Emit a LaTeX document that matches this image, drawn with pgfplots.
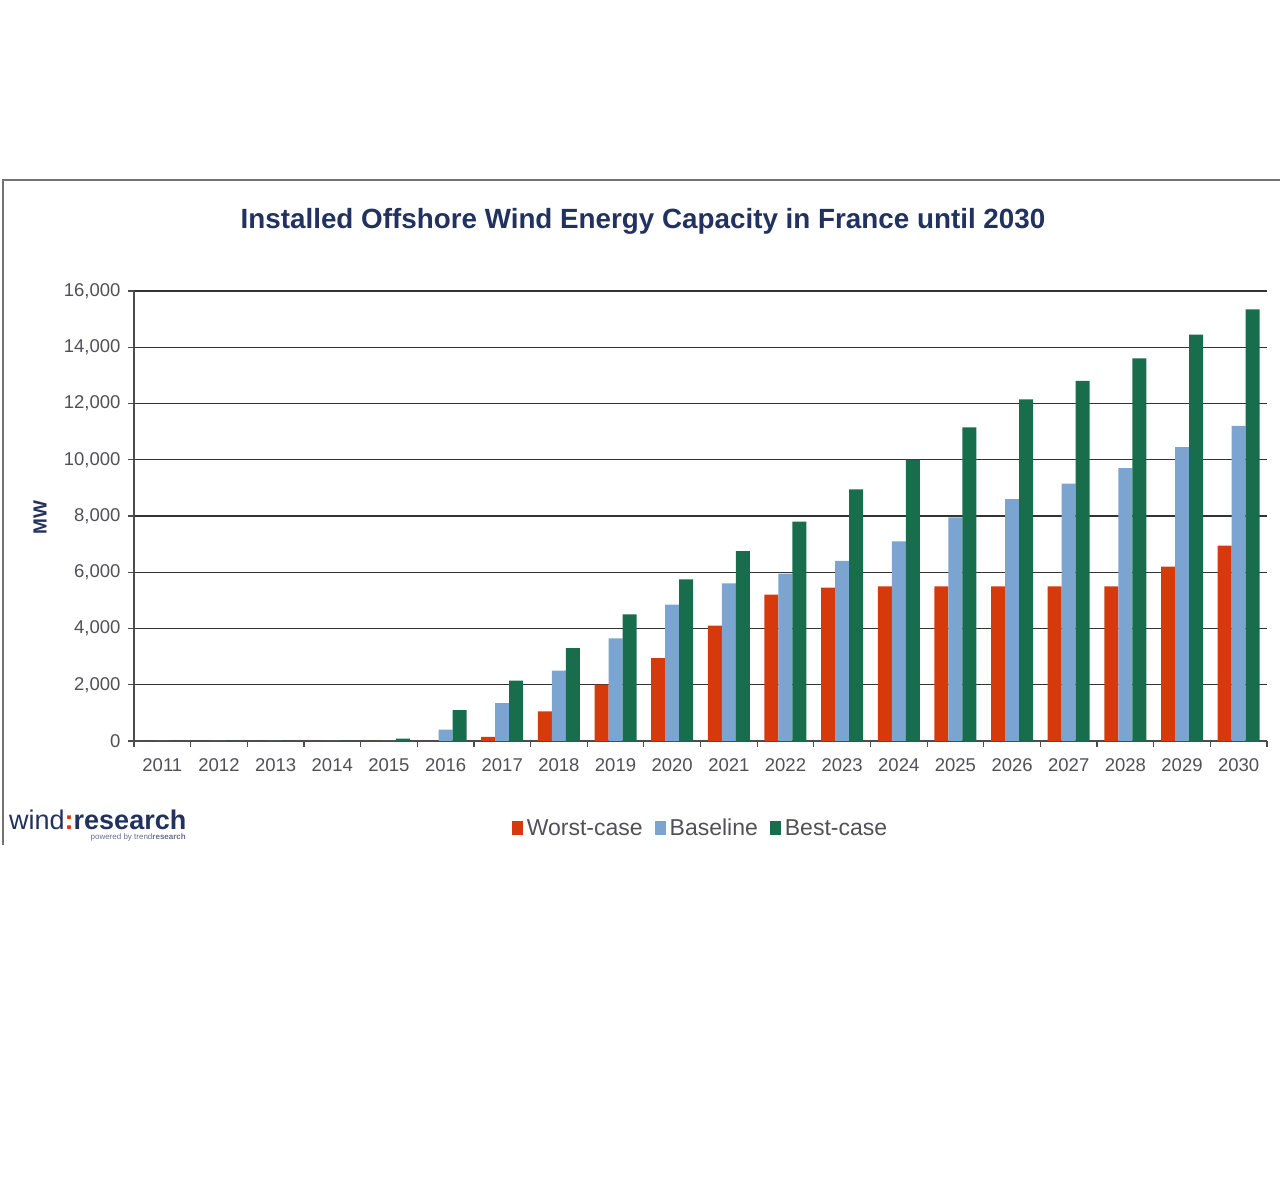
\documentclass[border=0pt]{standalone}
\usepackage{pgfplots}
\pgfplotsset{compat=1.18}
\usepackage{pgfplotstable}
\usepackage{fontspec}
\setmainfont{Liberation Sans}

\definecolor{worst}{RGB}{214,58,12}
\definecolor{base}{RGB}{124,164,208}
\definecolor{best}{RGB}{24,110,76}
\definecolor{navy}{RGB}{33,50,95}
\definecolor{ticktxt}{RGB}{80,80,88}

\pgfplotstableread{
yr   worst base  best
2011 0     0     0
2012 0     0     0
2013 0     0     0
2014 0     0     0
2015 0     0     80
2016 0     400   1100
2017 150   1350  2150
2018 1050  2500  3300
2019 2000  3650  4500
2020 2950  4850  5750
2021 4100  5600  6750
2022 5200  5950  7800
2023 5450  6400  8950
2024 5500  7100  10000
2025 5500  7950  11150
2026 5500  8600  12150
2027 5500  9150  12800
2028 5500  9700  13600
2029 6200  10450 14450
2030 6950  11200 15350
}\capdata

\begin{document}
\begin{tikzpicture}[x=1bp,y=1bp]
\path[use as bounding box] (0,0) rectangle (1280,1190);
% frame of the chart area
\draw[line width=2bp, black!55] (3,345) -- (3,1010) -- (1280,1010);
\node[font=\fontsize{27.8bp}{32bp}\selectfont\bfseries, text=navy] at (643,969)
  {Installed Offshore Wind Energy Capacity in France until 2030};

\begin{axis}[
    at={(134bp,449bp)}, anchor=south west,
    scale only axis, width=1133bp, height=450bp,
    ybar=0pt, bar width=14bp,
    xmin=-0.5, xmax=19.5, ymin=0, ymax=16000,
    xtick={0,...,19},
    xticklabels={2011,2012,2013,2014,2015,2016,2017,2018,2019,2020,
                 2021,2022,2023,2024,2025,2026,2027,2028,2029,2030},
    minor xtick={-0.5,0.5,...,19.5},
    ytick={0,2000,...,16000},
    scaled y ticks=false,
    /pgf/number format/1000 sep={,},
    /pgf/number format/assume math mode=true,
    axis x line*=bottom, axis y line*=left,
    axis line style={black!70, line width=1.2bp},
    tick align=outside,
    major tick length=6bp, minor tick length=6bp,
    tick style={black!70, line width=1.2bp},
    every major x tick/.append style={draw=none},
    ymajorgrids,
    major grid style={black!80, line width=1.4bp},
    tick label style={font=\fontsize{18.5bp}{21bp}\selectfont, text=ticktxt},
    xticklabel style={yshift=-8bp},
    yticklabel style={xshift=-4bp},
    ylabel={MW},
    ylabel style={font=\fontsize{19bp}{22bp}\selectfont\bfseries, text=navy,
                  at={(axis description cs:-0.083,0.497)}, anchor=center},
    legend style={at={(0.5,-0.193)}, anchor=center, draw=none, fill=none,
                  legend columns=3,
                  font=\fontsize{23bp}{26bp}\selectfont, text=ticktxt,
                  /tikz/every odd column/.append style={column sep=2bp},
                  /tikz/every even column/.append style={column sep=10bp}},
    every axis plot post/.append style={
      legend image code/.code={\fill[##1] (0bp,-7bp) rectangle (11bp,7bp);}},
  ]
  \addplot[fill=worst, draw=none] table[x expr=\coordindex, y=worst] {\capdata};
  \addplot[fill=base, draw=none] table[x expr=\coordindex, y=base] {\capdata};
  \addplot[fill=best, draw=none] table[x expr=\coordindex, y=best] {\capdata};
  \legend{Worst-case, Baseline, Best-case}
\end{axis}

% logo
\node[anchor=base west, inner sep=0pt, text=navy] at (9,360)
  {\fontsize{27bp}{30bp}\selectfont wind\textcolor{worst}{\bfseries:}\textbf{research}};
\node[anchor=base east, inner sep=0pt, text=navy!70] at (186,350)
  {\fontsize{8bp}{9bp}\selectfont powered by trend\textbf{research}};
\end{tikzpicture}
\end{document}
